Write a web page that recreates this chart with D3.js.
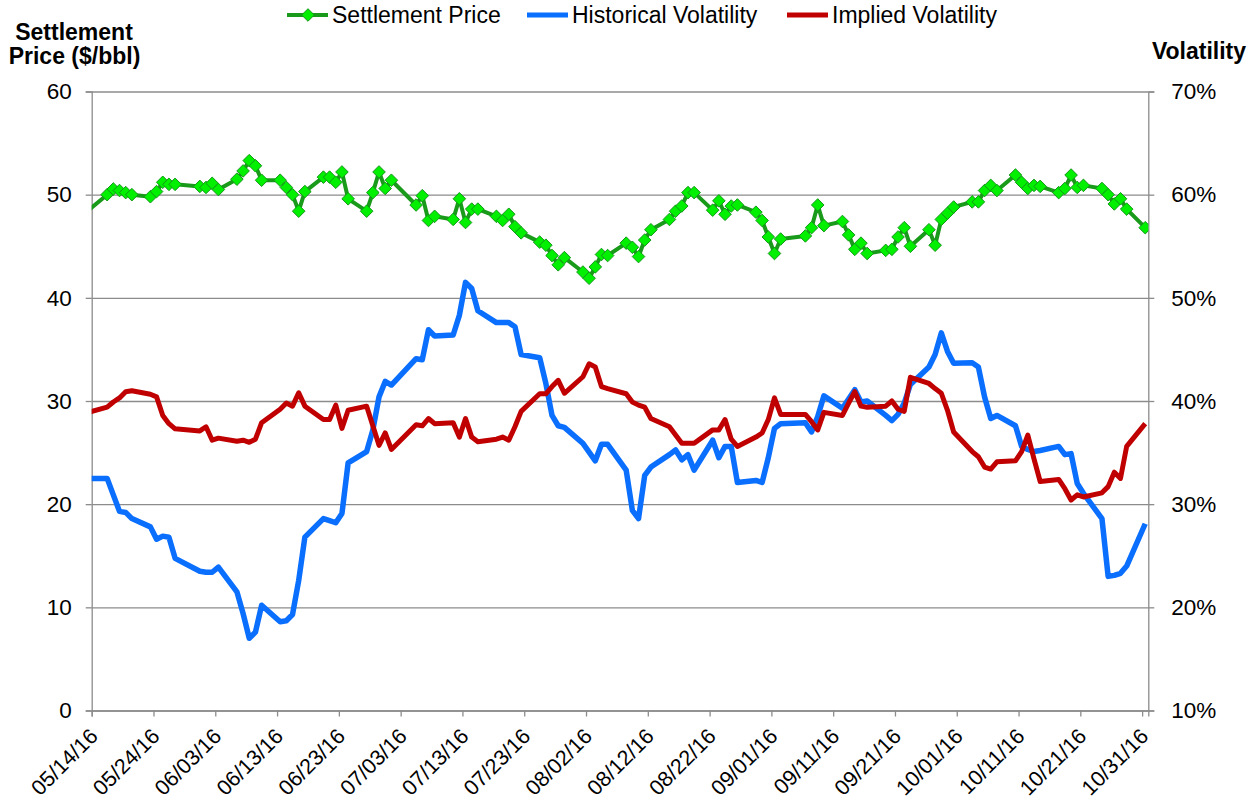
<!DOCTYPE html>
<html><head><meta charset="utf-8">
<script src="https://cdn.jsdelivr.net/npm/d3@7"></script>
<style>
body{margin:0;background:#fff}
text{font-family:"Liberation Sans",Arial,sans-serif;fill:#000}
</style>
</head><body>
<svg id="chart" width="1258" height="803"></svg>
<script>
const dates = [
"05/13/16","05/16/16","05/17/16","05/18/16","05/19/16","05/20/16",
"05/23/16","05/24/16","05/25/16","05/26/16","05/27/16",
"05/31/16","06/01/16","06/02/16","06/03/16",
"06/06/16","06/07/16","06/08/16","06/09/16","06/10/16",
"06/13/16","06/14/16","06/15/16","06/16/16","06/17/16",
"06/20/16","06/21/16","06/22/16","06/23/16","06/24/16",
"06/27/16","06/28/16","06/29/16","06/30/16","07/01/16",
"07/05/16","07/06/16","07/07/16","07/08/16",
"07/11/16","07/12/16","07/13/16","07/14/16","07/15/16",
"07/18/16","07/19/16","07/20/16","07/21/16","07/22/16",
"07/25/16","07/26/16","07/27/16","07/28/16","07/29/16",
"08/01/16","08/02/16","08/03/16","08/04/16","08/05/16",
"08/08/16","08/09/16","08/10/16","08/11/16","08/12/16",
"08/15/16","08/16/16","08/17/16","08/18/16","08/19/16",
"08/22/16","08/23/16","08/24/16","08/25/16","08/26/16",
"08/29/16","08/30/16","08/31/16","09/01/16","09/02/16",
"09/06/16","09/07/16","09/08/16","09/09/16",
"09/12/16","09/13/16","09/14/16","09/15/16","09/16/16",
"09/19/16","09/20/16","09/21/16","09/22/16","09/23/16",
"09/26/16","09/27/16","09/28/16","09/29/16","09/30/16",
"10/03/16","10/04/16","10/05/16","10/06/16","10/07/16",
"10/10/16","10/11/16","10/12/16","10/13/16","10/14/16",
"10/17/16","10/18/16","10/19/16","10/20/16","10/21/16",
"10/24/16","10/25/16","10/26/16","10/27/16","10/28/16",
"10/31/16"];

const settlementPrice = [
48.5,50.0,50.55,50.4,50.2,50.0,
49.8,50.3,51.2,51.0,51.0,
50.8,50.7,51.1,50.5,
51.5,52.3,53.3,52.8,51.4,
51.4,50.7,50.0,48.4,50.3,
51.7,51.7,51.2,52.2,49.6,
48.4,50.2,52.2,50.6,51.4,
49.0,49.9,47.5,47.9,
47.6,49.6,47.3,48.6,48.6,
47.9,47.5,48.1,46.9,46.3,
45.4,45.1,44.1,43.2,43.9,
42.5,41.9,43.0,44.2,44.1,
45.3,44.9,44.0,45.6,46.6,
47.6,48.4,48.9,50.2,50.2,
48.5,49.4,48.1,48.9,49.0,
48.3,47.5,45.9,44.3,45.7,
46.0,46.8,49.0,47.0,
47.4,46.1,44.7,45.3,44.3,
44.6,44.7,45.9,46.8,45.0,
46.6,45.1,47.6,48.2,48.8,
49.3,49.3,50.4,50.9,50.4,
51.9,51.2,50.6,50.9,50.8,
50.2,50.6,51.9,50.7,50.9,
50.6,50.0,49.1,49.6,48.6,
46.8];

const historicalVol = [
32.5,32.5,30.9,29.3,29.2,28.6,
27.8,26.6,26.9,26.8,24.75,
23.5,23.4,23.4,23.9,
21.5,19.4,17.0,17.6,20.2,
18.6,18.7,19.3,22.6,26.8,
28.6,28.4,28.2,29.1,34.0,
35.1,37.2,40.4,41.9,41.55,
44.1,44.0,46.9,46.3,
46.4,48.3,51.5,50.9,48.75,
47.6,47.6,47.6,47.2,44.5,
44.2,41.7,38.6,37.6,37.45,
35.9,35.05,34.2,35.8,35.8,
33.3,29.4,28.6,32.8,33.6,
34.8,35.25,34.3,34.8,33.3,
36.2,34.5,35.6,35.6,32.1,
32.3,32.1,34.5,37.35,37.8,
37.9,37.0,38.5,40.5,
39.3,40.2,41.1,39.9,40.0,
38.6,38.1,38.7,39.8,41.6,
43.3,44.5,46.6,44.8,43.65,
43.7,43.3,40.4,38.3,38.6,
37.6,35.6,35.3,35.1,35.2,
35.6,34.8,34.9,32.0,31.05,
28.6,23.0,23.1,23.3,24.0,
28.1];

const impliedVol = [
38.9,39.4,39.9,40.3,40.9,41.0,
40.65,40.4,38.6,37.8,37.3,
37.1,37.5,36.2,36.4,
36.1,36.2,36.0,36.3,37.9,
39.2,39.8,39.5,40.8,39.5,
38.2,38.2,39.6,37.35,39.1,
39.5,37.6,35.7,36.9,35.3,
37.7,37.6,38.3,37.8,
37.9,36.5,38.3,36.5,36.05,
36.3,36.5,36.2,37.5,39.0,
40.7,40.7,41.4,42.0,40.75,
42.35,43.6,43.3,41.4,41.2,
40.7,39.9,39.6,39.4,38.3,
37.5,36.7,35.9,35.9,35.9,
37.2,37.2,38.2,36.3,35.6,
36.5,36.9,38.2,40.3,38.7,
38.7,38.0,37.2,38.9,
38.6,39.8,40.9,39.5,39.4,
39.5,40.0,39.2,39.0,42.3,
41.7,41.2,40.75,39.1,37.0,
35.1,34.6,33.6,33.4,34.1,
34.2,35.1,36.7,34.4,32.2,
32.4,31.5,30.4,30.9,30.7,
31.1,31.7,33.1,32.5,35.6,
37.8];

const xTickLabels = ["05/14/16","05/24/16","06/03/16","06/13/16","06/23/16","07/03/16",
"07/13/16","07/23/16","08/02/16","08/12/16","08/22/16","09/01/16","09/11/16",
"09/21/16","10/01/16","10/11/16","10/21/16","10/31/16"];
const leftTicks = [0,10,20,30,40,50,60];
const rightTicks = [10,20,30,40,50,60,70];
const seriesNames = ["Settlement Price","Historical Volatility","Implied Volatility"];
const leftTitle = ["Settlement","Price ($/bbl)"];
const rightTitle = "Volatility";

const parse = d3.utcParse("%m/%d/%y");
const fmt = d3.utcFormat("%m/%d/%y");
const L = 91.7, R = 1148.3, T = 91.5, B = 710.5;
const GREEN = "#1a9a1a", LIME = "#00f000", BLUE = "#0a6eff", RED = "#c00000", GRID = "#8c8c8c";

const x = d3.scaleUtc().domain([parse("05/14/16"), parse("11/01/16")]).range([L, R]);
const yL = d3.scaleLinear().domain([0, 60]).range([B, T]);
const yR = d3.scaleLinear().domain([10, 70]).range([B, T]);
const HALF = 12 * 3600 * 1000;
const parsed = dates.map(parse);
const px = i => x(new Date(parsed[i].getTime() + HALF));

const svg = d3.select("#chart");

// gridlines
svg.append("g").attr("transform", `translate(${L},0)`)
  .call(d3.axisLeft(yL).tickValues(leftTicks).tickSize(-(R - L)).tickFormat(""))
  .call(g => g.select(".domain").remove())
  .call(g => g.selectAll("line").attr("stroke", GRID).attr("stroke-width", 1.3));

// left axis
svg.append("g").attr("transform", `translate(${L},0)`)
  .call(d3.axisLeft(yL).tickValues(leftTicks).tickSize(6).tickPadding(14))
  .call(g => g.select(".domain").attr("stroke", GRID).attr("stroke-width", 1.3))
  .call(g => g.selectAll("line").attr("stroke", GRID).attr("stroke-width", 1.3))
  .call(g => g.selectAll("text").attr("font-size", 22.5).attr("font-family", null));

// right axis
svg.append("g").attr("transform", `translate(${R},0)`)
  .call(d3.axisRight(yR).tickValues(rightTicks).tickSize(6).tickPadding(17).tickFormat(d => d + "%"))
  .call(g => g.select(".domain").attr("stroke", GRID).attr("stroke-width", 1.3))
  .call(g => g.selectAll("line").attr("stroke", GRID).attr("stroke-width", 1.3))
  .call(g => g.selectAll("text").attr("font-size", 22.5).attr("font-family", null));

// bottom axis
svg.append("g").attr("transform", `translate(0,${B})`)
  .call(d3.axisBottom(x).tickValues(xTickLabels.map(parse)).tickSize(6).tickFormat(fmt))
  .call(g => g.select(".domain").attr("stroke", GRID).attr("stroke-width", 1.3))
  .call(g => g.selectAll("line").attr("stroke", GRID).attr("stroke-width", 1.3))
  .call(g => g.selectAll("text").attr("font-size", 21.5).attr("font-family", null)
      .attr("x", 0).attr("y", 0).attr("dy", 0)
      .attr("text-anchor", "end")
      .attr("transform", "translate(7,27) rotate(-45)"));

// clip
svg.append("defs").append("clipPath").attr("id", "plot")
  .append("rect").attr("x", L).attr("y", T - 10).attr("width", R - L).attr("height", B - T + 20);

const idx = d3.range(dates.length);
const plot = svg.append("g").attr("clip-path", "url(#plot)");

const lineP = d3.line().x(i => px(i)).y(i => yL(settlementPrice[i]));
const lineH = d3.line().x(i => px(i)).y(i => yR(historicalVol[i]));
const lineI = d3.line().x(i => px(i)).y(i => yR(impliedVol[i]));

plot.append("path").attr("d", lineP(idx)).attr("fill", "none")
  .attr("stroke", GREEN).attr("stroke-width", 4).attr("stroke-linejoin", "round");

const diamond = "M0,-6.3L6.3,0L0,6.3L-6.3,0Z";
plot.selectAll(".mk").data(idx.filter(i => parsed[i] >= x.domain()[0])).join("path")
  .attr("class", "mk").attr("d", diamond)
  .attr("transform", i => `translate(${px(i)},${yL(settlementPrice[i])})`)
  .attr("fill", LIME).attr("stroke", "#14961a").attr("stroke-width", 1);

plot.append("path").attr("d", lineH(idx)).attr("fill", "none")
  .attr("stroke", BLUE).attr("stroke-width", 5.5).attr("stroke-linejoin", "round");
plot.append("path").attr("d", lineI(idx)).attr("fill", "none")
  .attr("stroke", RED).attr("stroke-width", 5).attr("stroke-linejoin", "round");

// titles
svg.append("text").attr("x", 74).attr("y", 40).attr("text-anchor", "middle")
  .attr("font-size", 23).attr("font-weight", "bold").text(leftTitle[0]);
svg.append("text").attr("x", 74.5).attr("y", 63.5).attr("text-anchor", "middle")
  .attr("font-size", 23).attr("font-weight", "bold").text(leftTitle[1]);
svg.append("text").attr("x", 1199).attr("y", 59).attr("text-anchor", "middle")
  .attr("font-size", 23).attr("font-weight", "bold").text(rightTitle);

// legend
const legendX = [287, 527, 787];
const legendColors = [GREEN, BLUE, RED];
const lg = svg.append("g");
seriesNames.forEach((name, k) => {
  const g = lg.append("g").attr("transform", `translate(${legendX[k]},15)`);
  g.append("line").attr("x1", 0).attr("x2", 41).attr("y1", 0).attr("y2", 0)
    .attr("stroke", legendColors[k]).attr("stroke-width", k === 0 ? 4 : 5);
  if (k === 0) g.append("path").attr("d", diamond).attr("transform", "translate(21,0)")
    .attr("fill", LIME).attr("stroke", "#14961a").attr("stroke-width", 1);
  g.append("text").attr("x", 45).attr("y", 8).attr("font-size", 23).text(name);
});
</script>
</body></html>
